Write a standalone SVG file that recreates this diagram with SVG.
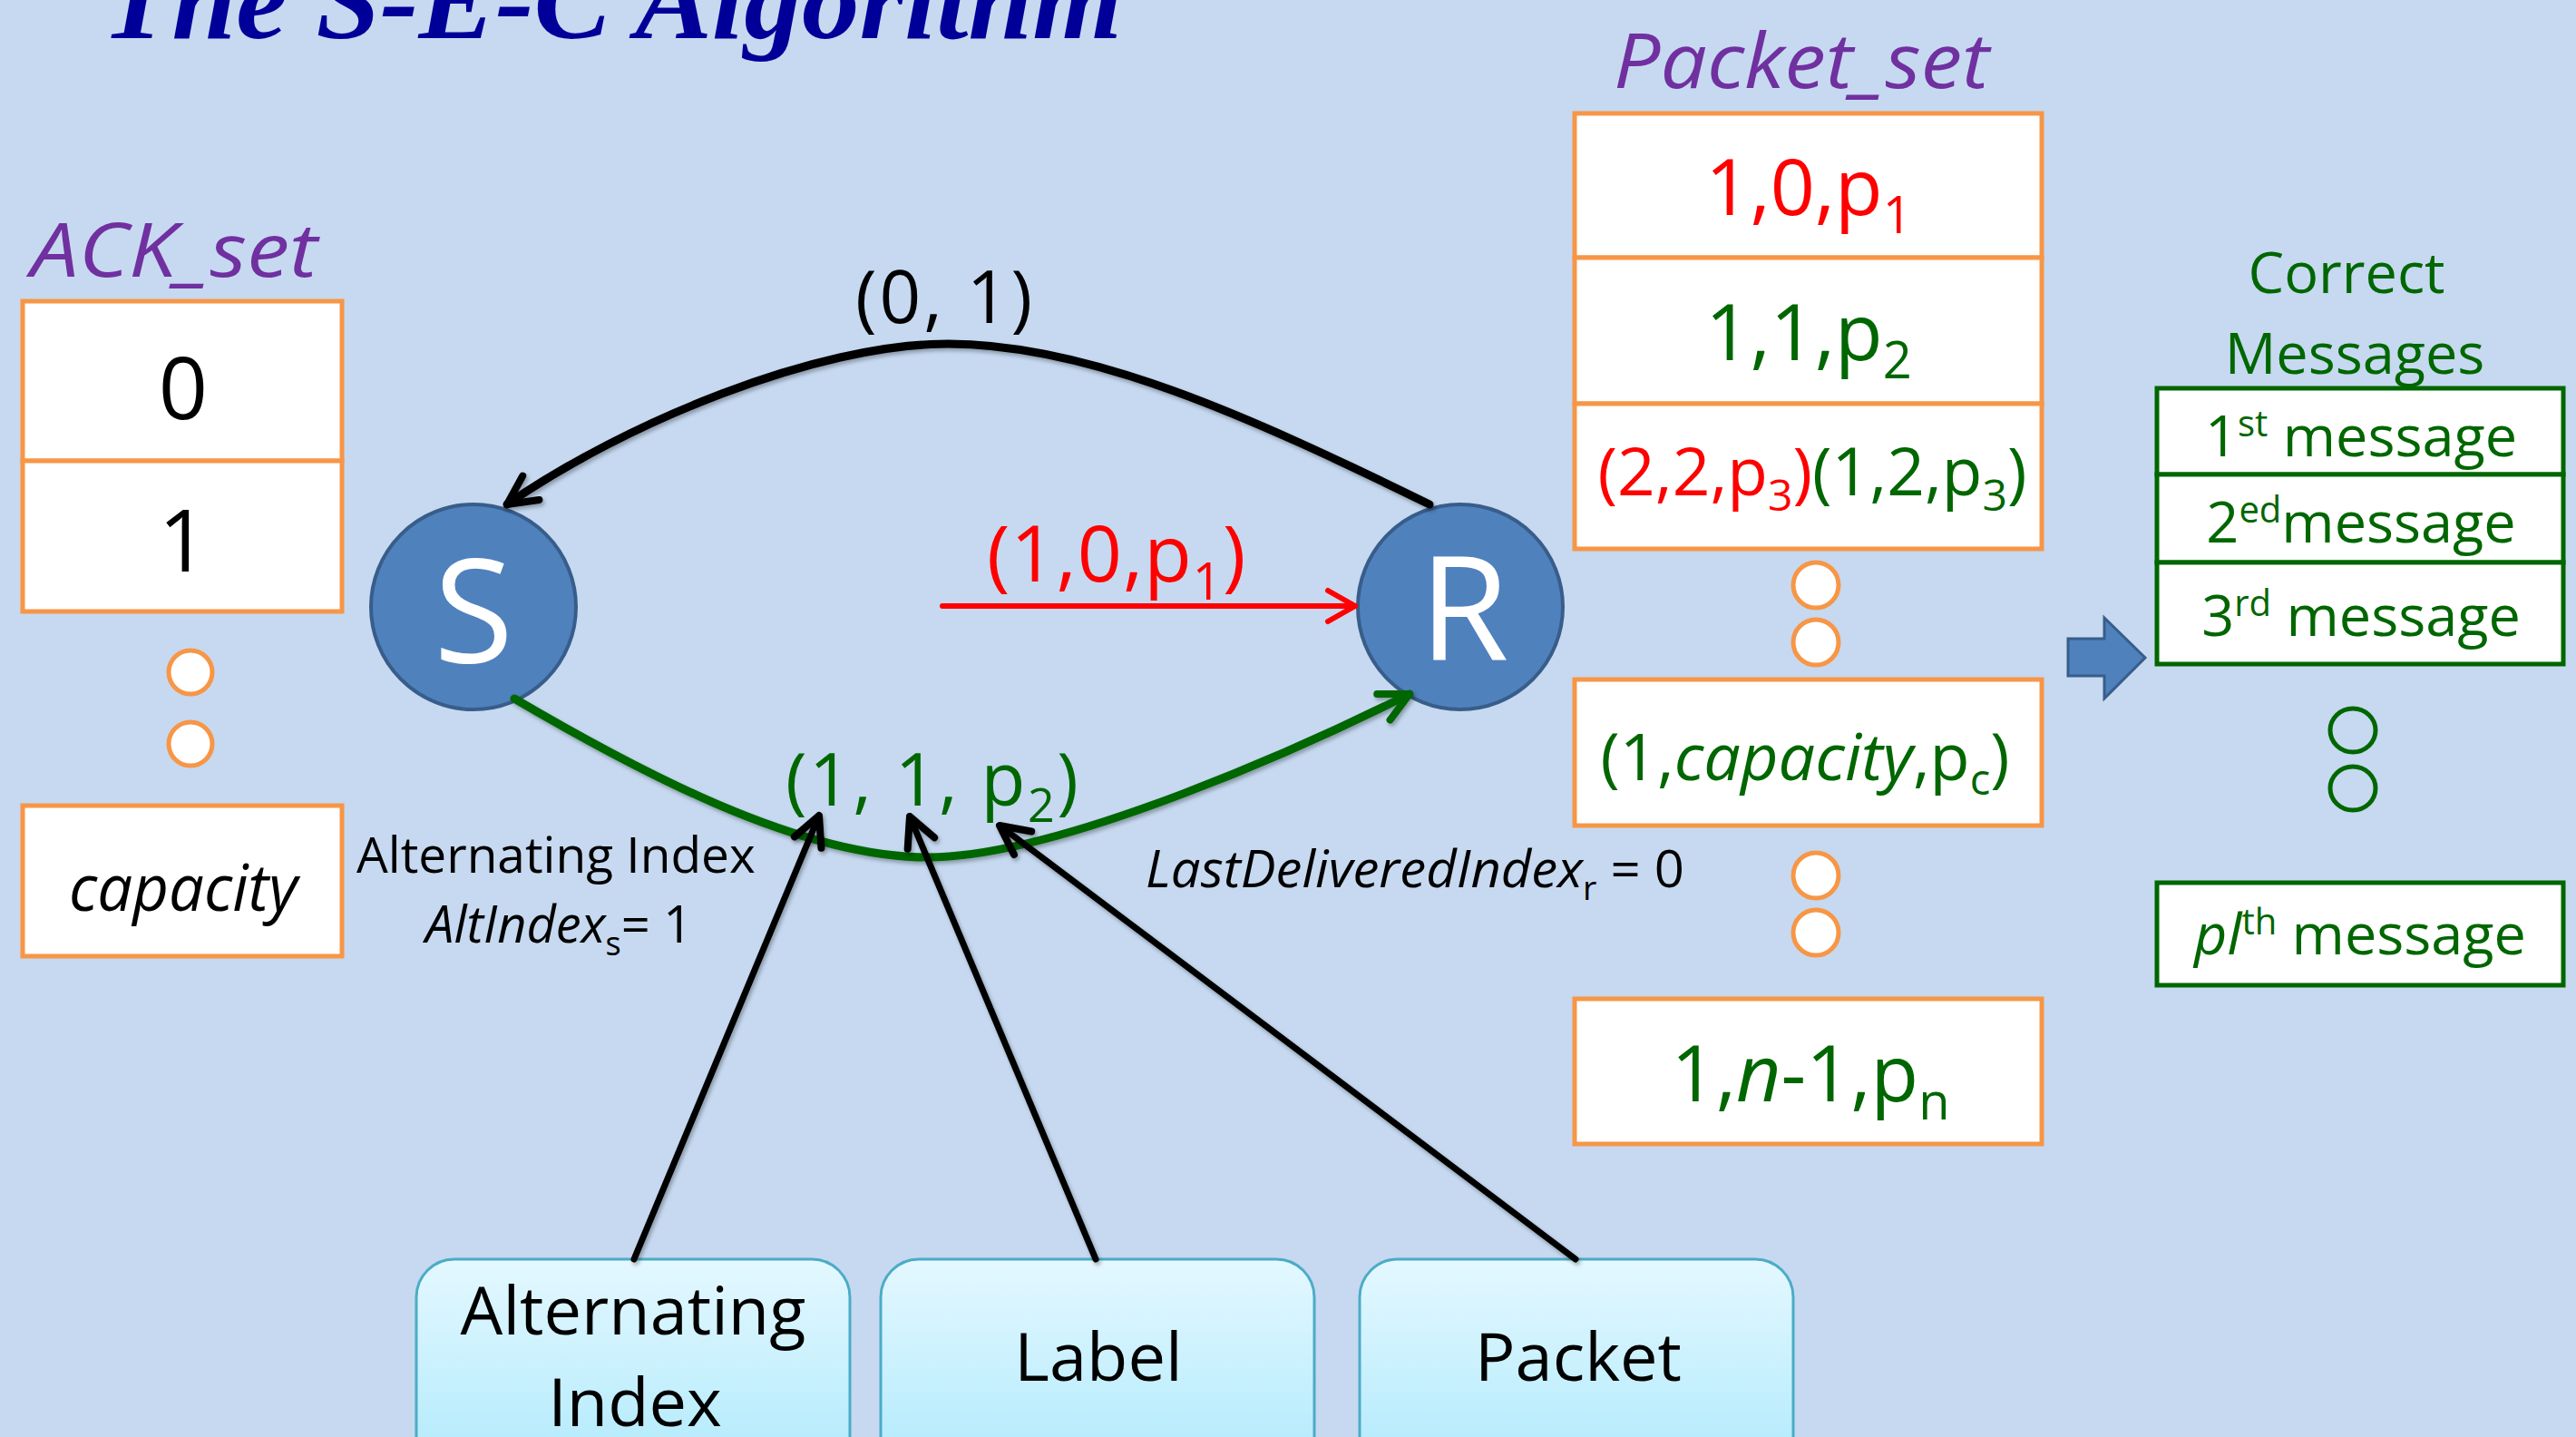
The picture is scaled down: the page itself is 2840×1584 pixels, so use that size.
<svg xmlns="http://www.w3.org/2000/svg" width="2840" height="1584" viewBox="0 0 2840 1584">
  <style>
    .t { font-family: "Open Sans", "Liberation Sans", sans-serif; }
    .it { font-style: italic; }
    .cell { fill: #FFFFFF; stroke: #F79646; stroke-width: 5; }
    .dot { fill: #FFFFFF; stroke: #F79646; stroke-width: 5; }
    .gcell { fill: #FFFFFF; stroke: #006600; stroke-width: 5; }
    .gdot { fill: none; stroke: #006600; stroke-width: 5; }
    .node { fill: #4F81BD; stroke: #385D8A; stroke-width: 4; }
    .field { fill: url(#fieldFill); stroke: #4BACC6; stroke-width: 3; }
    .red { fill: #FF0000; }
    .green { fill: #006600; }
    .purple { fill: #7030A0; }
  </style>
  <defs>
    <linearGradient id="fieldFill" x1="0" y1="0" x2="0" y2="1">
      <stop offset="0" stop-color="#E4F8FF"/>
      <stop offset="1" stop-color="#A2E6FB"/>
    </linearGradient>
    <filter id="lineShadow" x="-10%" y="-10%" width="120%" height="120%">
      <feDropShadow dx="2" dy="3" stdDeviation="2" flood-color="#000000" flood-opacity="0.3"/>
    </filter>
    <marker id="headBlack" viewBox="-40 -22 46 44" markerWidth="46" markerHeight="44" refX="0" refY="0" orient="auto" markerUnits="userSpaceOnUse">
      <path d="M -32 -16 L 0 0 L -32 16" fill="none" stroke="#000000" stroke-width="8" stroke-linecap="round" stroke-linejoin="round"/>
    </marker>
    <marker id="headRed" viewBox="-40 -22 46 44" markerWidth="46" markerHeight="44" refX="0" refY="0" orient="auto" markerUnits="userSpaceOnUse">
      <path d="M -30 -17 L 0 0 L -30 17" fill="none" stroke="#FF0000" stroke-width="6" stroke-linecap="round" stroke-linejoin="round"/>
    </marker>
    <marker id="headGreen" viewBox="-40 -22 46 44" markerWidth="46" markerHeight="44" refX="0" refY="0" orient="auto" markerUnits="userSpaceOnUse">
      <path d="M -32 -16 L 0 0 L -32 16" fill="none" stroke="#006600" stroke-width="8" stroke-linecap="round" stroke-linejoin="round"/>
    </marker>
  </defs>

  <!-- slide background -->
  <rect x="0" y="0" width="2840" height="1584" fill="#C6D9F0"/>

  <!-- heading -->
  <text id="title" x="112" y="42" font-family="Liberation Serif, serif" font-style="italic" font-weight="bold" font-size="122" fill="#000099" textLength="1125" lengthAdjust="spacingAndGlyphs">The S-E-C Algorithm</text>

  <!-- ACK_set column -->
  <g id="ack-set">
    <text class="t it purple" x="34" y="305" font-size="82" textLength="316" lengthAdjust="spacingAndGlyphs">ACK_set</text>
    <rect class="cell" x="25" y="332" width="352" height="176"/>
    <rect class="cell" x="25" y="508" width="352" height="166"/>
    <text class="t" x="202" y="462" font-size="95" text-anchor="middle">0</text>
    <text class="t" x="202" y="630" font-size="95" text-anchor="middle">1</text>
    <circle class="dot" cx="210" cy="741" r="24"/>
    <circle class="dot" cx="210" cy="820" r="24"/>
    <rect class="cell" x="25" y="888" width="352" height="166"/>
    <text class="t it" x="202" y="1004" font-size="72" text-anchor="middle" textLength="252" lengthAdjust="spacingAndGlyphs">capacity</text>
  </g>

  <!-- sender and receiver -->
  <g id="node-S">
    <circle class="node" cx="522" cy="669" r="113"/>
    <text class="t" x="522" y="730" font-size="160" fill="#FFFFFF" text-anchor="middle">S</text>
  </g>
  <g id="node-R">
    <circle class="node" cx="1610" cy="669" r="113"/>
    <text class="t" x="1614" y="728" font-size="160" fill="#FFFFFF" text-anchor="middle">R</text>
  </g>

  <!-- bottom field boxes -->
  <g id="field-alt-index">
    <rect class="field" x="459" y="1388" width="478" height="300" rx="42"/>
    <text class="t" x="698" y="1471" font-size="74" text-anchor="middle">Alternating</text>
    <text class="t" x="700" y="1572" font-size="74" text-anchor="middle">Index</text>
  </g>
  <g id="field-label">
    <rect class="field" x="971" y="1388" width="478" height="300" rx="42"/>
    <text class="t" x="1211" y="1522" font-size="74" text-anchor="middle">Label</text>
  </g>
  <g id="field-packet">
    <rect class="field" x="1499" y="1388" width="478" height="300" rx="42"/>
    <text class="t" x="1740" y="1522" font-size="74" text-anchor="middle">Packet</text>
  </g>

  <!-- connectors -->
  <g id="connectors" fill="none" stroke-linecap="round">
    <path d="M 1576 556 C 1376 458 1200 379 1045 379 C 900 379 689 466 559 556" stroke="#000000" stroke-width="9" marker-end="url(#headBlack)" filter="url(#lineShadow)"/>
    <path d="M 1039 668 L 1494 668" stroke="#FF0000" stroke-width="6" marker-end="url(#headRed)"/>
    <path d="M 567 770 C 700 848 880 945 1023 945 C 1170 945 1444 820 1554 765" stroke="#006600" stroke-width="9" marker-end="url(#headGreen)" filter="url(#lineShadow)"/>
    <path d="M 699 1388 L 903 899" stroke="#000000" stroke-width="7" marker-end="url(#headBlack)" filter="url(#lineShadow)"/>
    <path d="M 1208 1388 L 1003 900" stroke="#000000" stroke-width="7" marker-end="url(#headBlack)" filter="url(#lineShadow)"/>
    <path d="M 1737 1388 L 1102 910" stroke="#000000" stroke-width="7" marker-end="url(#headBlack)" filter="url(#lineShadow)"/>
  </g>

  <!-- message labels on the links -->
  <g id="link-labels">
    <text class="t" x="943" y="356" font-size="80" letter-spacing="3">(0, 1)</text>
    <text class="t red" x="1088" y="641" font-size="86" letter-spacing="1">(1,0,p<tspan font-size="56" dy="20">1</tspan><tspan dy="-20">)</tspan></text>
    <text class="t green" x="866" y="888" font-size="80" letter-spacing="2.5">(1, 1, p<tspan font-size="52" dy="18">2</tspan><tspan dy="-18">)</tspan></text>
    <text class="t" x="393" y="962" font-size="55">Alternating Index</text>
    <text class="t" x="469" y="1039" font-size="56"><tspan class="it">AltIndex</tspan><tspan font-size="36" dy="14">s</tspan><tspan dy="-14">= 1</tspan></text>
    <text class="t" x="1263" y="978" font-size="57" textLength="594" lengthAdjust="spacingAndGlyphs"><tspan class="it">LastDeliveredIndex</tspan><tspan font-size="37" dy="14">r</tspan><tspan dy="-14"> = 0</tspan></text>
  </g>

  <!-- Packet_set column -->
  <g id="packet-set">
    <text class="t it purple" x="1779" y="97" font-size="84" textLength="414" lengthAdjust="spacingAndGlyphs">Packet_set</text>
    <rect class="cell" x="1736" y="125" width="515" height="159"/>
    <rect class="cell" x="1736" y="284" width="515" height="161"/>
    <rect class="cell" x="1736" y="445" width="515" height="160"/>
    <text class="t red" x="1994" y="237" font-size="86" text-anchor="middle">1,0,p<tspan font-size="56" dy="20">1</tspan></text>
    <text class="t green" x="1994" y="397" font-size="86" text-anchor="middle">1,1,p<tspan font-size="56" dy="20">2</tspan></text>
    <text class="t" x="1998" y="546" font-size="73" text-anchor="middle"><tspan class="red">(2,2,p<tspan font-size="48" dy="17">3</tspan><tspan dy="-17">)</tspan></tspan><tspan class="green">(1,2,p<tspan font-size="48" dy="17">3</tspan><tspan dy="-17">)</tspan></tspan></text>
    <circle class="dot" cx="2002" cy="645" r="25"/>
    <circle class="dot" cx="2002" cy="708" r="25"/>
    <rect class="cell" x="1736" y="749" width="515" height="161"/>
    <text class="t green" x="1990" y="860" font-size="72" text-anchor="middle">(1,<tspan class="it">capacity</tspan>,p<tspan font-size="47" dy="16">c</tspan><tspan dy="-16">)</tspan></text>
    <circle class="dot" cx="2002" cy="965" r="25"/>
    <circle class="dot" cx="2002" cy="1028" r="25"/>
    <rect class="cell" x="1736" y="1101" width="515" height="160"/>
    <text class="t green" x="1996" y="1214" font-size="86" text-anchor="middle">1,<tspan class="it">n</tspan>-1,p<tspan font-size="56" dy="20">n</tspan></text>
  </g>

  <!-- delivery arrow -->
  <g id="deliver-arrow">
    <polygon points="2280,704 2320,704 2320,681 2365,725 2320,770 2320,745 2280,745" fill="#4F81BD" stroke="#385D8A" stroke-width="3"/>
  </g>

  <!-- Correct Messages column -->
  <g id="correct-messages">
    <text class="t green" x="2587" y="323" font-size="63" text-anchor="middle">Correct</text>
    <text class="t green" x="2596" y="412" font-size="63" text-anchor="middle">Messages</text>
    <rect class="gcell" x="2378" y="428" width="448" height="95"/>
    <rect class="gcell" x="2378" y="523" width="448" height="97"/>
    <rect class="gcell" x="2378" y="620" width="448" height="112"/>
    <text class="t green" x="2603" y="503" font-size="63" text-anchor="middle">1<tspan font-size="40" dy="-22">st</tspan><tspan dy="22"> message</tspan></text>
    <text class="t green" x="2603" y="598" font-size="63" text-anchor="middle">2<tspan font-size="40" dy="-22">ed</tspan><tspan dy="22">message</tspan></text>
    <text class="t green" x="2603" y="701" font-size="63" text-anchor="middle">3<tspan font-size="40" dy="-22">rd</tspan><tspan dy="22"> message</tspan></text>
    <ellipse class="gdot" cx="2594" cy="805" rx="25" ry="24"/>
    <ellipse class="gdot" cx="2594" cy="869" rx="25" ry="24"/>
    <rect class="gcell" x="2378" y="973" width="448" height="113"/>
    <text class="t green" x="2602" y="1052" font-size="63" text-anchor="middle"><tspan class="it">pl</tspan><tspan font-size="40" dy="-22">th</tspan><tspan dy="22"> message</tspan></text>
  </g>
</svg>
